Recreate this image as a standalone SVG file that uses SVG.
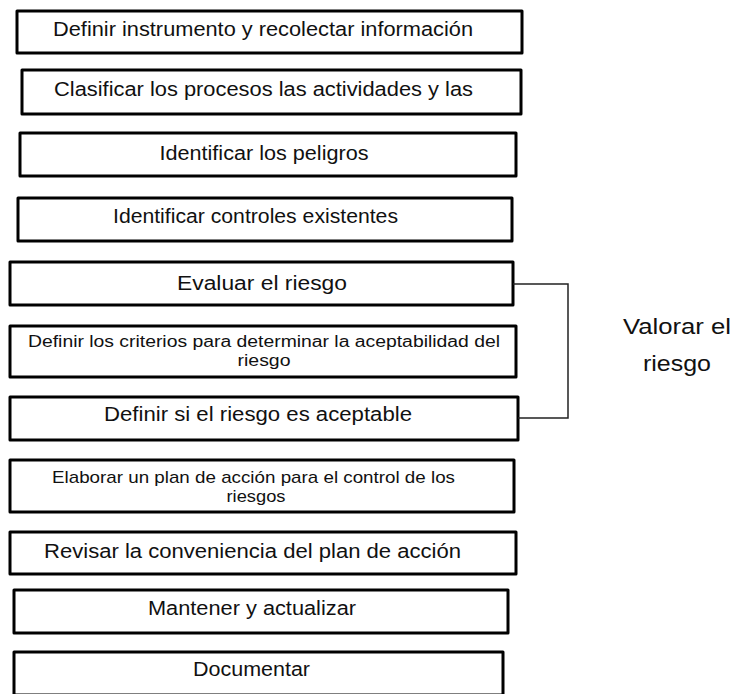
<svg xmlns="http://www.w3.org/2000/svg" width="734" height="694" viewBox="0 0 734 694">
<style>
.box{fill:#fff;stroke:#000;stroke-width:3;stroke-linejoin:round}
.t{font-family:"Liberation Sans",Arial,sans-serif;fill:#111;text-anchor:middle;font-size:20px}
.s{font-size:16px}
.m{font-size:17px}
.conn{fill:none;stroke:#222;stroke-width:1.5}
</style>
<rect width="734" height="694" fill="#fff"/>
<g id="n1"><rect class="box" x="17" y="11" width="505" height="42"/><text class="t" x="263" y="36" textLength="420" lengthAdjust="spacingAndGlyphs">Definir instrumento y recolectar información</text></g>
<g id="n2"><rect class="box" x="22" y="70" width="499" height="44"/><text class="t" x="263.5" y="96" textLength="419" lengthAdjust="spacingAndGlyphs">Clasificar los procesos las actividades y las</text></g>
<g id="n3"><rect class="box" x="20" y="133" width="496" height="43"/><text class="t" x="264" y="160" textLength="209" lengthAdjust="spacingAndGlyphs">Identificar los peligros</text></g>
<g id="n4"><rect class="box" x="18" y="198" width="494" height="43"/><text class="t" x="255.5" y="223" textLength="285" lengthAdjust="spacingAndGlyphs">Identificar controles existentes</text></g>
<g id="n5"><rect class="box" x="10" y="262" width="503" height="43"/><text class="t" x="262" y="290" textLength="170" lengthAdjust="spacingAndGlyphs">Evaluar el riesgo</text></g>
<g id="n6"><rect class="box" x="10" y="326" width="506" height="51"/><text class="t s" x="264" y="347" textLength="472" lengthAdjust="spacingAndGlyphs">Definir los criterios para determinar la aceptabilidad del</text><text class="t s" x="264" y="366" textLength="53" lengthAdjust="spacingAndGlyphs">riesgo</text></g>
<g id="n7"><rect class="box" x="10" y="397" width="508" height="43"/><text class="t" x="258" y="421" textLength="308" lengthAdjust="spacingAndGlyphs">Definir si el riesgo es aceptable</text></g>
<g id="n8"><rect class="box" x="10" y="460" width="504" height="52"/><text class="t m" x="253.5" y="483" textLength="403" lengthAdjust="spacingAndGlyphs">Elaborar un plan de acción para el control de los</text><text class="t m" x="256" y="502" textLength="59" lengthAdjust="spacingAndGlyphs">riesgos</text></g>
<g id="n9"><rect class="box" x="10" y="532" width="506" height="42"/><text class="t" x="252.5" y="558" textLength="417" lengthAdjust="spacingAndGlyphs">Revisar la conveniencia del plan de acción</text></g>
<g id="n10"><rect class="box" x="14" y="590" width="494" height="43"/><text class="t" x="252" y="615" textLength="208" lengthAdjust="spacingAndGlyphs">Mantener y actualizar</text></g>
<g id="n11"><rect class="box" x="14" y="652" width="489" height="43"/><text class="t" x="251.5" y="676" textLength="117" lengthAdjust="spacingAndGlyphs">Documentar</text></g>
<g id="connectors"><path class="conn" d="M513 284 H568 V418 H518"/></g>
<g id="label"><text class="t" style="font-size:22px" x="677" y="334" textLength="108" lengthAdjust="spacingAndGlyphs">Valorar el</text><text class="t" style="font-size:22px" x="677" y="371" textLength="68" lengthAdjust="spacingAndGlyphs">riesgo</text></g>
</svg>
